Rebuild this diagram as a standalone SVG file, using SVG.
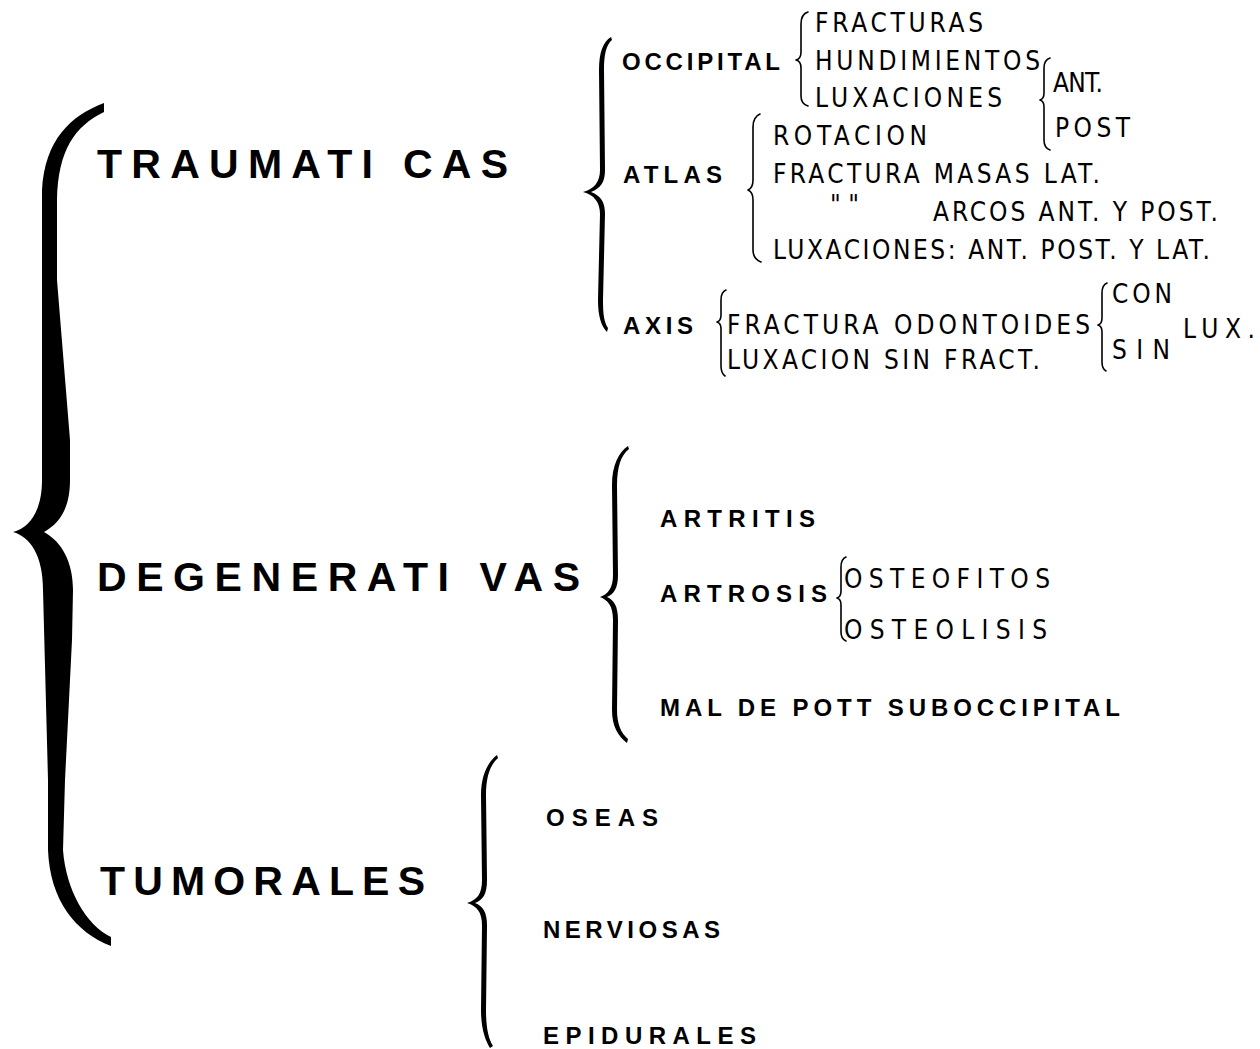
<svg xmlns="http://www.w3.org/2000/svg" width="1260" height="1049" viewBox="0 0 1260 1049">
<style>
.big{font-family:"Liberation Sans",Arial,sans-serif;font-weight:bold;font-size:41px;fill:#000}
.sub{font-family:"Liberation Sans",Arial,sans-serif;font-weight:bold;font-size:24px;fill:#000}
.det{font-family:"DejaVu Sans Condensed","Liberation Sans Narrow","Liberation Sans",sans-serif;font-size:26px;fill:#000}
.thin{fill:none;stroke:#000;stroke-width:1.6;stroke-linecap:round;stroke-linejoin:round}
.fill{fill:#000;stroke:none}
</style>
<rect width="1260" height="1049" fill="#fff"/>
<g id="connectors">
<path class="fill" d="M104,103 C70,116 45,140 42,190 L42,480 C42,510 30,528 13,532 C30,537 43,555 43,590 L48,780 L48,850 C50,900 75,932 111,946 L111,937 C86,925 66,890 63,850 L65,780 L72,640 L73,590 C73,562 62,542 44,532 C62,522 70,505 70,480 L70,440 L57,280 L57,200 C58,150 75,126 104,112 Z"/>
<path class="fill" d="M611,37 C603,42 599,52 599,70 L600,170 C600,182 594,189 583,192 C594,195 600,202 600,214 L598,300 C598,316 601,326 607,332 L608,328 C604,322 603,314 603,300 L605,214 C605,202 601,196 591,192 C601,188 605,182 605,170 L604,70 C604,55 606,45 612,40 Z"/>
<path class="fill" d="M628,446 C619,452 612,465 612,485 L613,575 C613,588 608,594 600,597 C608,600 613,606 613,620 L612,710 C612,726 618,736 627,743 L628,739 C621,733 617,724 617,710 L618,620 C618,606 614,600 607,597 C614,594 618,588 618,575 L617,485 C617,467 621,455 629,449 Z"/>
<path class="fill" d="M497,755 C488,762 481,775 481,795 L482,880 C482,894 477,900 467,903 C477,906 482,912 482,926 L481,1010 C481,1028 485,1040 490,1048 L493,1046 C488,1038 486,1026 486,1010 L487,926 C487,912 483,906 475,903 C483,900 487,894 487,880 L486,795 C486,777 490,765 498,758 Z"/>
<path class="thin" d="M808,12 Q801,14 801,24 L801,52 Q801,59 796,60 Q801,61 801,68 L801,96 Q801,104 808,106"/>
<path class="thin" d="M1050,58 Q1044,60 1044,68 L1044,93 Q1044,99 1040,100 Q1044,101 1044,107 L1044,140 Q1044,148 1050,150"/>
<path class="thin" d="M760,114 Q753,117 753,127 L753,180 Q753,188 748,190 Q753,192 753,200 L753,250 Q753,259 761,262"/>
<path class="thin" d="M726,290 Q721,292 721,300 L721,315 Q721,321 717,322 Q721,323 721,329 L721,366 Q721,373 725,376"/>
<path class="thin" d="M1107,283 Q1102,285 1102,293 L1102,318 Q1102,324 1098,325 Q1102,326 1102,332 L1102,362 Q1102,369 1106,371"/>
<path class="thin" d="M846,557 Q841,559 841,567 L841,591 Q841,597 837,598 Q841,599 841,605 L841,632 Q841,639 846,641"/>
</g>
<g id="traumaticas"><text class="big" x="97" y="178" textLength="411" lengthAdjust="spacing">TRAUMATI CAS</text></g>
<g id="degenerativas"><text class="big" x="97" y="591" textLength="483" lengthAdjust="spacing">DEGENERATI VAS</text></g>
<g id="tumorales"><text class="big" x="100" y="895" textLength="325" lengthAdjust="spacing">TUMORALES</text></g>
<g id="occipital">
<text class="sub" x="622" y="70" textLength="158" lengthAdjust="spacing">OCCIPITAL</text>
<text class="det" x="815" y="32" textLength="168" lengthAdjust="spacing">FRACTURAS</text>
<text class="det" x="815" y="70" textLength="225" lengthAdjust="spacing">HUNDIMIENTOS</text>
<text class="det" x="815" y="107" textLength="187" lengthAdjust="spacing">LUXACIONES</text>
<text class="det" x="1053" y="92" textLength="50" lengthAdjust="spacing">ANT.</text>
<text class="det" x="1055" y="137" textLength="75" lengthAdjust="spacing">POST</text>
</g>
<g id="atlas">
<text class="sub" x="623" y="183" textLength="99" lengthAdjust="spacing">ATLAS</text>
<text class="det" x="773" y="145" textLength="154" lengthAdjust="spacing">ROTACION</text>
<text class="det" x="773" y="183" textLength="327" lengthAdjust="spacing">FRACTURA MASAS LAT.</text>
<text class="det" x="830" y="214" font-size="18">" "</text>
<text class="det" x="933" y="221" textLength="285" lengthAdjust="spacing">ARCOS ANT. Y POST.</text>
<text class="det" x="773" y="259" textLength="437" lengthAdjust="spacing">LUXACIONES: ANT. POST. Y LAT.</text>
</g>
<g id="axis">
<text class="sub" x="623" y="334" textLength="70" lengthAdjust="spacing">AXIS</text>
<text class="det" x="727" y="334" textLength="363" lengthAdjust="spacing">FRACTURA ODONTOIDES</text>
<text class="det" x="727" y="369" textLength="313" lengthAdjust="spacing">LUXACION SIN FRACT.</text>
<text class="det" x="1112" y="303" textLength="60" lengthAdjust="spacing">CON</text>
<text class="det" x="1112" y="359" textLength="58" lengthAdjust="spacing">SIN</text>
<text class="det" x="1183" y="338" textLength="72" lengthAdjust="spacing">LUX.</text>
</g>
<g id="degen-items">
<text class="sub" x="660" y="527" textLength="155" lengthAdjust="spacing">ARTRITIS</text>
<text class="sub" x="660" y="602" textLength="167" lengthAdjust="spacing">ARTROSIS</text>
<text class="det" x="844" y="588" textLength="206" lengthAdjust="spacing">OSTEOFITOS</text>
<text class="det" x="844" y="639" textLength="203" lengthAdjust="spacing">OSTEOLISIS</text>
<text class="sub" x="660" y="716" textLength="460" lengthAdjust="spacing">MAL DE POTT SUBOCCIPITAL</text>
</g>
<g id="tumor-items">
<text class="sub" x="546" y="826" textLength="112" lengthAdjust="spacing">OSEAS</text>
<text class="sub" x="543" y="938" textLength="177" lengthAdjust="spacing">NERVIOSAS</text>
<text class="sub" x="543" y="1044" textLength="213" lengthAdjust="spacing">EPIDURALES</text>
</g>
</svg>
